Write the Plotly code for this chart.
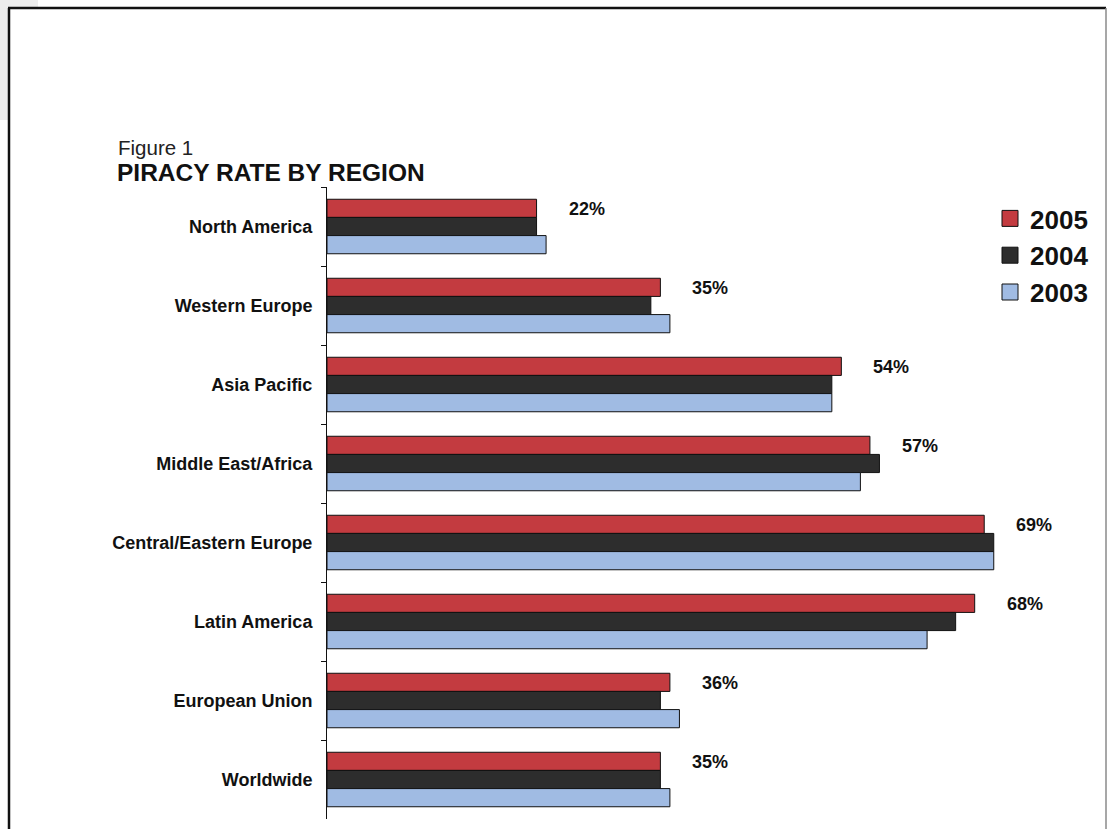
import plotly.graph_objects as go

categories = ["North America", "Western Europe", "Asia Pacific", "Middle East/Africa",
              "Central/Eastern Europe", "Latin America", "European Union", "Worldwide"]
rate_2005 = [22, 35, 54, 57, 69, 68, 36, 35]
rate_2004 = [22, 34, 53, 58, 70, 66, 35, 35]
rate_2003 = [23, 36, 53, 56, 70, 63, 37, 36]
series_names = ["2005", "2004", "2003"]
labels_2005 = [f"{v}%" for v in rate_2005]

colors = ["#C33B40", "#2D2D2D", "#A0BBE3"]
FONT = "Liberation Sans, Arial, Helvetica, sans-serif"

W, H = 1109, 829
L, R, T, B = 327, 20, 187, 10
XMAX = 80
PW, PH = W - L - R, H - T - B


def px(x):
    return (x - L) / PW


def py(y):
    return (H - B - y) / PH


fig = go.Figure()
for name, vals, col in zip(series_names, [rate_2005, rate_2004, rate_2003], colors):
    fig.add_trace(go.Bar(
        y=categories, x=vals, orientation="h", name=name,
        marker=dict(color=col, line=dict(color="#111111", width=1)),
        showlegend=False, hoverinfo="x+y+name",
    ))
# legend entries (larger square swatches)
for name, col in zip(series_names, colors):
    fig.add_trace(go.Scatter(
        x=[None], y=[None], mode="markers", name=name, legendgroup=name,
        marker=dict(symbol="square", size=16, color=col, line=dict(color="#111111", width=1)),
    ))

annotations = []
for cat, v, lab in zip(categories, rate_2005, labels_2005):
    annotations.append(dict(
        x=v, y=cat, xref="x", yref="y", text=lab, showarrow=False,
        xanchor="left", yanchor="middle", xshift=30, yshift=18,
        font=dict(family=FONT, size=18, color="#111111", weight="bold"),
    ))
annotations.append(dict(
    x=px(116), y=py(148), xref="paper", yref="paper", text="Figure 1",
    showarrow=False, xanchor="left", yanchor="middle",
    font=dict(family=FONT, size=20.5, color="#222222"),
))
annotations.append(dict(
    x=px(115), y=py(172), xref="paper", yref="paper", text="PIRACY RATE BY REGION",
    showarrow=False, xanchor="left", yanchor="middle",
    font=dict(family=FONT, size=24.5, color="#111111", weight="bold"),
))

shapes = [
    dict(type="rect", xref="paper", yref="paper", x0=px(0), x1=px(8), y0=py(0), y1=py(120),
         fillcolor="#EDEDED", line=dict(width=0), layer="below"),
    dict(type="rect", xref="paper", yref="paper", x0=px(0), x1=px(38), y0=py(0), y1=py(8),
         fillcolor="#EDEDED", line=dict(width=0), layer="below"),
    dict(type="line", xref="paper", yref="paper", x0=px(9), x1=px(9), y0=py(8), y1=py(835),
         line=dict(color="#111111", width=2.5)),
    dict(type="line", xref="paper", yref="paper", x0=px(8), x1=px(1106), y0=py(8), y1=py(8),
         line=dict(color="#111111", width=2.5)),
    dict(type="line", xref="paper", yref="paper", x0=px(1106), x1=px(1106), y0=py(8), y1=py(835),
         line=dict(color="#8A8A8A", width=1.5)),
]

fig.update_layout(
    width=W, height=H,
    margin=dict(l=L, r=R, t=T, b=B, pad=0),
    paper_bgcolor="white", plot_bgcolor="white",
    barmode="group", bargap=0.31, bargroupgap=0,
    xaxis=dict(range=[0, XMAX], visible=False, fixedrange=True),
    yaxis=dict(
        type="category", autorange="reversed",
        showline=True, linecolor="#111111", linewidth=1,
        ticks="outside", tickson="boundaries", ticklen=5, tickcolor="#111111",
        ticklabelstandoff=10, showgrid=False, zeroline=False,
        tickfont=dict(family=FONT, size=18, color="#111111", weight="bold"),
    ),
    legend=dict(
        x=px(990), y=py(195), xanchor="left", yanchor="top",
        font=dict(family=FONT, size=26, color="#111111", weight="bold"),
        bgcolor="rgba(0,0,0,0)", tracegroupgap=0, traceorder="grouped",
        itemwidth=30,
    ),
    annotations=annotations,
    shapes=shapes,
    showlegend=True,
)

fig.write_html("out.html")
